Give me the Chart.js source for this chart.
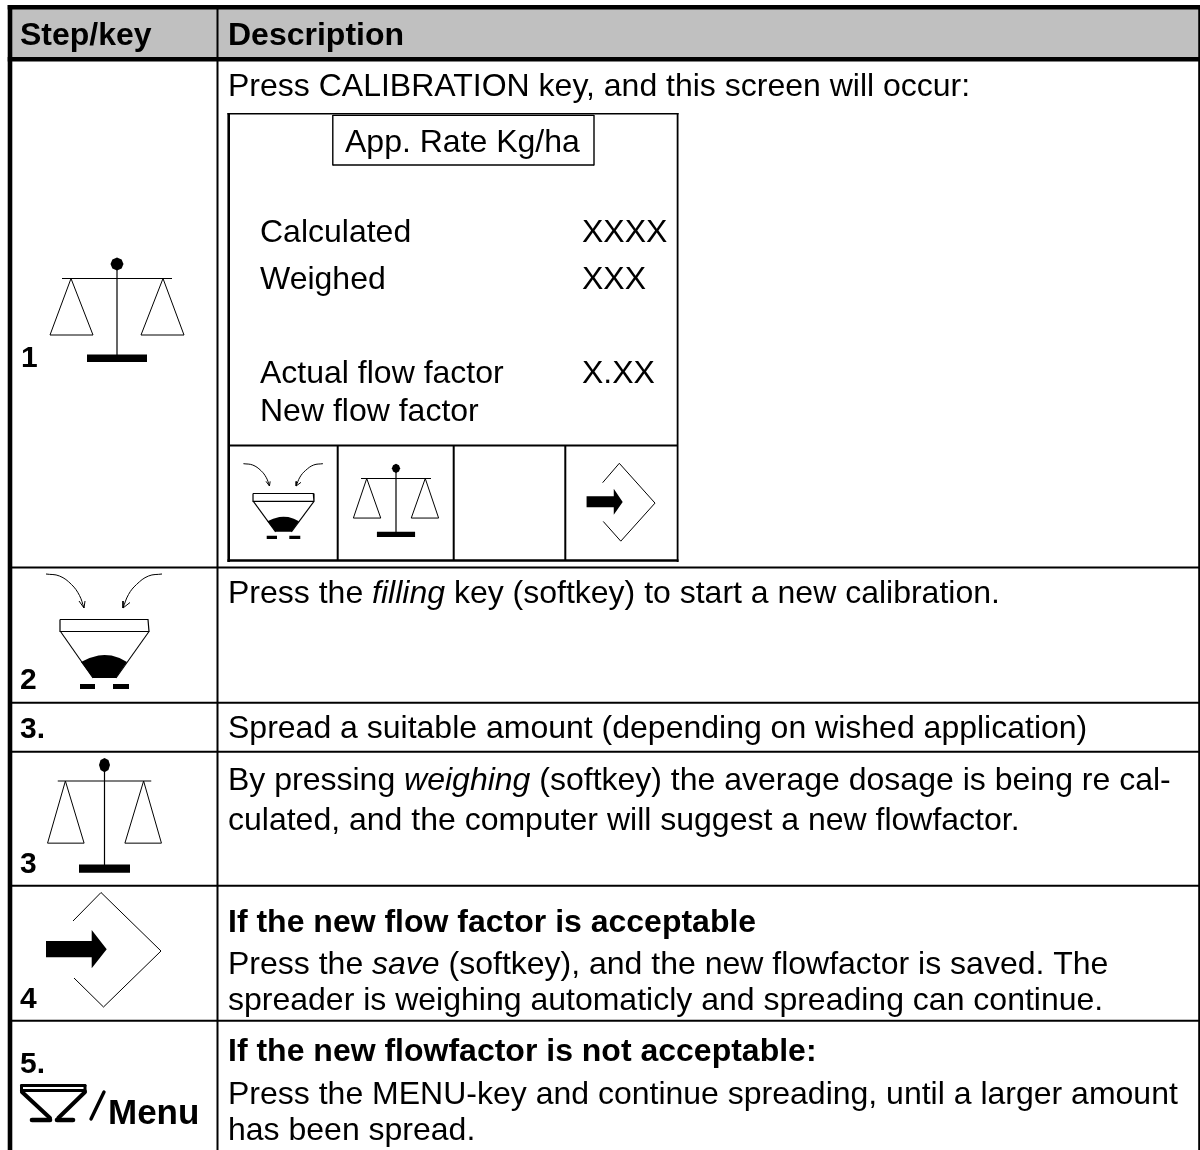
<!DOCTYPE html>
<html>
<head>
<meta charset="utf-8">
<script src="https://cdn.jsdelivr.net/npm/chart.js@4"></script>
<style>html,body{margin:0;padding:0;background:#fff}canvas{display:block}</style>
</head>
<body>
<canvas id="c" width="1200" height="1150"></canvas>
<script>
// Table rules: [x1, y1, x2, y2, width]
const frameRules = [
  [10, 5, 10, 1150, 4.6],
  [7.7, 7.2, 1200, 7.2, 4.4],
  [7.7, 59.3, 1200, 59.3, 4.6],
  [1199.1, 5, 1199.1, 1150, 1.8],
  [217.5, 5, 217.5, 1150, 2],
  [8, 567.5, 1200, 567.5, 2],
  [8, 702.7, 1200, 702.7, 2],
  [8, 751.7, 1200, 751.7, 2],
  [8, 885.7, 1200, 885.7, 2],
  [8, 1020.7, 1200, 1020.7, 2]
];
const screenRules = [
  [228.7, 113, 228.7, 562, 2.6],
  [227.5, 113.7, 678.5, 113.7, 1.4],
  [677.6, 113, 677.6, 562, 1.8],
  [227.5, 560.5, 678.5, 560.5, 2.4],
  [228, 445.5, 678, 445.5, 2],
  [337.7, 445, 337.7, 560, 2],
  [453.7, 445, 453.7, 560, 2],
  [565.3, 445, 565.3, 560, 2],
  [332.8, 115.4, 594, 115.4, 1.4],
  [332.8, 165, 594, 165, 1.4],
  [332.8, 115, 332.8, 165.6, 1.4],
  [594, 115, 594, 165.6, 1.4]
];
const headerFill = [[12, 9], [1198.4, 9], [1198.4, 57], [12, 57]];

// Balance icon, drawn once per placement: [originX, originY, scaleX, scaleY]
const balancePlacements = [[117, 278.5, 1, 1], [104.5, 781, 0.85, 1.1], [396, 478.5, 0.636, 0.7]];
const balanceBeam = [[-55, 0], [55, 0]];
const balancePost = [[0, -10], [0, 80]];
const balanceLeftPan = [[-46, 0], [-67, 56.5], [-24, 56.5], [-46, 0]];
const balanceRightPan = [[46, 0], [24, 56.5], [67, 56.5], [46, 0]];
const balanceBase = [[-30, 76], [30, 76], [30, 83.5], [-30, 83.5]];
const balanceKnob = [[0, -21], [4.6, -19.1], [6.5, -14.5], [4.6, -9.9], [0, -8], [-4.6, -9.9], [-6.5, -14.5], [-4.6, -19.1]];

// Hopper icon placements
const hopperPlacements = [[104.5, 619.5, 1, 1], [283.5, 493.5, 0.685, 0.655]];
const hopperRim = [[-44.5, 0], [43.5, 0], [44.5, 12], [-44, 12], [-44.5, 0]];
const hopperLeftSide = [[-44, 12], [-11.5, 58.5]];
const hopperRightSide = [[44.5, 12], [11.5, 58.5]];
const hopperFillShape = [[-23.5, 42.5], [-15, 38.5], [-6, 36], [0, 35.5], [7, 36], [15, 38.5], [22.5, 42.5], [11.5, 58.5], [-11.5, 58.5]];
const hopperFootL = [[-24.5, 64.5], [-9.5, 64.5], [-9.5, 69.5], [-24.5, 69.5]];
const hopperFootR = [[8.5, 64.5], [24.5, 64.5], [24.5, 69.5], [8.5, 69.5]];
const hopperArrowL = [[-58.5, -45.5], [-45, -43.5], [-33, -35], [-25, -24], [-20.5, -11.5]];
const hopperArrowLHead = [[-25.5, -18.5], [-20.5, -11.5], [-19.5, -18.5]];
const hopperArrowR = [[57.5, -45.5], [44, -43.5], [32, -35], [24, -25], [18.5, -11.5]];
const hopperArrowRHead = [[18.5, -18.5], [18.5, -11.5], [25.5, -17]];

// Diamond-arrow icon placements
const diamondPlacements = [[101, 892.5, 1, 1], [619.3, 463.3, 0.595, 0.68]];
const diamondOutline = [[-28, 28.5], [0, 0], [60, 58.5], [2.5, 114.5], [-27, 85.5]];
const diamondArrow = [[-55, 48.5], [-9.3, 48.5], [-9.3, 37.5], [5.7, 56.8], [-9.3, 75.8], [-9.3, 64.8], [-55, 64.8]];

// Menu icon
const menuBars = [[21.5, 1085.5, 85, 1085.5, 3], [21.5, 1090.5, 85, 1090.5, 3], [21.5, 1085.5, 21.5, 1091, 3], [85, 1085.5, 85, 1091, 3],
  [22, 1092, 50, 1118, 4], [85, 1092, 58.3, 1118, 4],
  [32, 1120, 50, 1120, 4.6], [57, 1120, 73, 1120, 4.6], [91, 1119, 104, 1092, 3.4]];

// Text: [x, baseline y, size, [[text, style], ...]]
const tableTexts = [
  [20, 45, 32, [['Step/key', 'bold']]],
  [228, 45, 32, [['Description', 'bold']]],
  [228, 96, 32, [['Press CALIBRATION key, and this screen will occur:', '']]],
  [345, 152, 32, [['App. Rate Kg/ha', '']]],
  [260, 242, 32, [['Calculated', '']]],
  [582, 242, 32, [['XXXX', '']]],
  [260, 289, 32, [['Weighed', '']]],
  [582, 289, 32, [['XXX', '']]],
  [260, 383, 32, [['Actual flow factor', '']]],
  [582, 383, 32, [['X.XX', '']]],
  [260, 421, 32, [['New flow factor', '']]],
  [21, 367, 30, [['1', 'bold']]],
  [228, 603, 32, [['Press the ', ''], ['filling', 'italic'], [' key (softkey) to start a new calibration.', '']]],
  [20, 689, 30, [['2', 'bold']]],
  [20, 738, 30, [['3.', 'bold']]],
  [228, 738, 32, [['Spread a suitable amount (depending on wished application)', '']]],
  [228, 790, 32, [['By pressing ', ''], ['weighing', 'italic'], [' (softkey) the average dosage is being re cal-', '']]],
  [228, 830, 32, [['culated, and the computer will suggest a new flowfactor.', '']]],
  [20, 873, 30, [['3', 'bold']]],
  [228, 932, 32, [['If the new flow factor is acceptable', 'bold']]],
  [228, 974, 32, [['Press the ', ''], ['save', 'italic'], [' (softkey), and the new flowfactor is saved. The', '']]],
  [228, 1010, 32, [['spreader is weighing automaticly and spreading can continue.', '']]],
  [20, 1008, 30, [['4', 'bold']]],
  [20, 1073, 30, [['5.', 'bold']]],
  [108, 1124, 35, [['Menu', 'bold']]],
  [228, 1061, 32, [['If the new flowfactor is not acceptable:', 'bold']]],
  [228, 1104, 32, [['Press the MENU-key and continue spreading, until a larger amount', '']]],
  [228, 1140, 32, [['has been spread.', '']]]
];

const INK = '#000';
const datasets = [];
function addShape(points, width, filled, color, extra) {
  datasets.push(Object.assign({
    data: points.map(p => ({x: p[0], y: p[1]})),
    borderColor: filled && width === 0 ? 'rgba(0,0,0,0)' : INK,
    backgroundColor: color || INK,
    borderWidth: width,
    fill: filled ? 'shape' : false,
    pointRadius: 0,
    tension: 0,
    clip: false,
    borderJoinStyle: 'miter'
  }, extra || {}));
}
function place(points, pl) {
  return points.map(p => [pl[0] + p[0] * pl[2], pl[1] + p[1] * pl[3]]);
}
function addRule(r) { addShape([[r[0], r[1]], [r[2], r[3]]], r[4], false); }

const ROUND = {borderCapStyle: 'round'};
const CURVE = {tension: 0.4};
menuBars.forEach(r => addShape([[r[0], r[1]], [r[2], r[3]]], r[4], false, null, ROUND));
balancePlacements.forEach(pl => {
  addShape(place(balanceKnob, pl), 0, true);
  addShape(place(balanceBase, pl), 0, true);
  addShape(place(balanceBeam, pl), 1.2, false);
  addShape(place(balancePost, pl), 1.2, false);
  addShape(place(balanceLeftPan, pl), 1, false);
  addShape(place(balanceRightPan, pl), 1, false);
});
hopperPlacements.forEach(pl => {
  addShape(place(hopperRim, pl), 1.2, false);
  addShape(place(hopperLeftSide, pl), 1.1, false);
  addShape(place(hopperRightSide, pl), 1.1, false);
  addShape(place(hopperFillShape, pl), 0, true);
  addShape(place(hopperFootL, pl), 0, true);
  addShape(place(hopperFootR, pl), 0, true);
  addShape(place(hopperArrowL, pl), 1, false, null, CURVE);
  addShape(place(hopperArrowLHead, pl), 1, false);
  addShape(place(hopperArrowR, pl), 1, false, null, CURVE);
  addShape(place(hopperArrowRHead, pl), 1, false);
});
diamondPlacements.forEach(pl => {
  addShape(place(diamondOutline, pl), 1, false);
  addShape(place(diamondArrow, pl), 0, true);
});
screenRules.forEach(addRule);
frameRules.forEach(addRule);
addShape(headerFill, 0, true, '#c0c0c0');

const textPlugin = {
  id: 'tableText',
  afterDatasetsDraw(chart) {
    const {ctx, scales} = chart;
    ctx.save();
    ctx.fillStyle = INK;
    ctx.textBaseline = 'alphabetic';
    ctx.textAlign = 'left';
    tableTexts.forEach(t => {
      let x = scales.x.getPixelForValue(t[0]);
      const y = scales.y.getPixelForValue(t[1]);
      t[3].forEach(run => {
        ctx.font = (run[1] ? run[1] + ' ' : '') + t[2] + 'px "Liberation Sans"';
        ctx.fillText(run[0], x, y);
        x += ctx.measureText(run[0]).width;
      });
    });
    ctx.restore();
  }
};

new Chart(document.getElementById('c'), {
  type: 'scatter',
  data: {datasets},
  options: {
    responsive: false,
    animation: false,
    showLine: true,
    layout: {padding: 0},
    plugins: {legend: {display: false}, tooltip: {enabled: false}, title: {display: false}},
    scales: {
      x: {type: 'linear', min: 0, max: 1200, display: false},
      y: {type: 'linear', min: 0, max: 1150, reverse: true, display: false}
    }
  },
  plugins: [textPlugin]
});
</script>
</body>
</html>
